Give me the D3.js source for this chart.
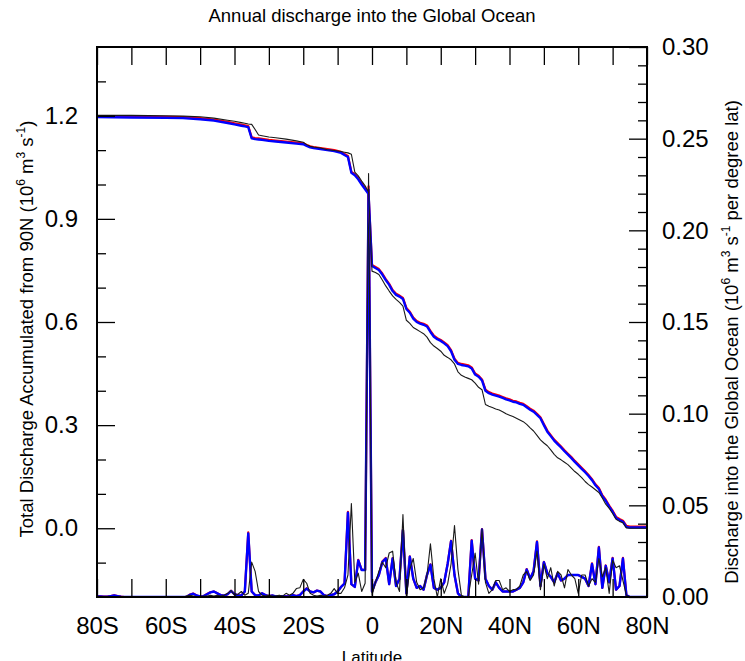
<!DOCTYPE html>
<html>
<head>
<meta charset="utf-8">
<script src="https://cdn.jsdelivr.net/npm/d3@7"></script>
<style>
  body { margin: 0; background: #fff; }
  svg { display: block; font-family: "Liberation Sans", Arial, Helvetica, sans-serif; }
</style>
</head>
<body>
<svg id="chart" width="745" height="661"></svg>
<script>
// ---------------- data ----------------
// Latitude grid (1 degree) for the per-latitude discharge series
const latQ = d3.range(-80, 81, 1);

// Discharge into the ocean per degree latitude (10^6 m^3 s^-1), 80S..80N
const qObs = [
  0,0,0,0,0,0,0,0,0,0,
  0,0,0,0,0,0,0,0,0,0,
  0,0,0,0,0,0,0.0005,0.001,0.0005,0,
  0,0.0005,0.0005,0.001,0.0005,0.001,0.0005,0.001,0.002,0.0035,
  0.001,0.0015,0.003,0.001,0.002,0.019,0.014,0.003,0.001,0.0005,
  0.001,0.0005,0.0005,0.001,0.0005,0.002,0.001,0.002,0.0046,0.005,
  0.0096,0.0075,0.002,0.001,0.0005,0.001,0.0005,0.001,0.002,0.0046,
  0.002,0.002,0.005,0.012,0.051,0.008,0.013,0.003,0.0075,0.231,
  0.001,0.008,0.014,0.019,0.016,0.024,0.025,0.008,0.003,0.045,
  0.000,0.015,0.021,0.008,0.004,0.005,0.012,0.029,0.010,0.000,
  0.010,0.002,0.007,0.018,0.039,0.015,0.001,0.000,0.000,0.012,
  0.024,0.007,0.037,0.008,0.002,0.004,0.009,0.009,0.004,0.005,
  0.003,0.004,0.004,0.006,0.012,0.014,0.009,0.012,0.025,0.004,
  0.018,0.010,0.016,0.006,0.014,0.012,0.005,0.015,0.012,0.010,
  0.002,0.012,0.012,0.006,0.010,0.008,0.021,0.011,0.016,0.002,
  0.020,0.016,0.017,0.009,0.001,0,0,0,0,0,
  0
];
const qRed = [
  0.0004,0.0003,0.0002,0.0002,0.0005,0.0009,0.0005,0.0002,0,0,
  0,0,0,0,0,0,0,0,0,0,
  0,0,0,0,0,0,0,0.0013,0.0019,0.0008,
  0.0003,0.0005,0.0016,0.0026,0.003,0.002,0.001,0.0008,0.0015,0.0034,
  0.0015,0.001,0.0008,0.003,0.0352,0.003,0.001,0.0008,0.002,0.001,
  0.0005,0.0008,0.0003,0.0005,0.0005,0.0003,0.0005,0.001,0.0005,0.001,
  0.003,0.0048,0.003,0.0025,0.0035,0.003,0.001,0.0005,0.001,0.0015,
  0.003,0.0055,0.0074,0.0465,0.007,0.0055,0.0203,0.0148,0.0148,0.224,
  0.003,0.008,0.012,0.0193,0.0213,0.007,0.0212,0.006,0.010,0.0368,
  0.002,0.0222,0.010,0.005,0.006,0.004,0.012,0.0178,0.005,0.004,
  0.005,0.008,0.018,0.0307,0.012,0.002,0.000,0.000,0.000,0.031,
  0.010,0.009,0.0371,0.010,0.006,0.004,0.008,0.005,0.003,0.003,
  0.003,0.003,0.004,0.005,0.008,0.0152,0.010,0.014,0.0303,0.006,
  0.0192,0.013,0.011,0.008,0.013,0.009,0.010,0.012,0.012,0.012,
  0.012,0.011,0.010,0.006,0.0183,0.007,0.0273,0.005,0.0172,0.008,
  0.0213,0.004,0.006,0.0213,0.001,0,0,0,0,0,
  0
];
const qModel = [
  0.0003,0.0003,0.0002,0.0002,0.0005,0.0008,0.0005,0.0002,0,0,
  0,0,0,0,0,0,0,0,0,0,
  0,0,0,0,0,0,0,0.0012,0.0018,0.0008,
  0.0003,0.0005,0.0015,0.0025,0.003,0.002,0.001,0.0008,0.0015,0.0033,
  0.0015,0.001,0.0008,0.003,0.0347,0.003,0.001,0.0008,0.002,0.001,
  0.0005,0.0008,0.0003,0.0005,0.0005,0.0003,0.0005,0.001,0.0005,0.001,
  0.003,0.0046,0.003,0.0025,0.0035,0.003,0.001,0.0005,0.001,0.0015,
  0.003,0.0055,0.0073,0.046,0.007,0.0055,0.020,0.0147,0.0147,0.222,
  0.003,0.008,0.012,0.019,0.021,0.007,0.021,0.006,0.010,0.0365,
  0.002,0.022,0.010,0.005,0.006,0.004,0.012,0.0176,0.005,0.004,
  0.005,0.008,0.018,0.0304,0.012,0.002,0.000,0.000,0.000,0.0307,
  0.010,0.009,0.0368,0.010,0.006,0.004,0.008,0.005,0.003,0.003,
  0.003,0.003,0.004,0.005,0.008,0.015,0.010,0.014,0.030,0.006,
  0.019,0.013,0.011,0.008,0.013,0.009,0.010,0.012,0.012,0.012,
  0.012,0.011,0.010,0.006,0.018,0.007,0.027,0.005,0.017,0.008,
  0.021,0.004,0.006,0.021,0.001,0,0,0,0,0,
  0
];

// Latitudes of the accumulated-discharge samples
const latAcc = [
  -80,-70,-60,-55,-50,-46,-42,-40,-38,-37,-36,-35,-34,-33,-32,-30,-28,-25,-22,-20,
  -19,-18,-17,-15,-13,-11,-9,-8,-7,-6,-5,-4,-3,-2,-1,
  0,1,2,3,4,5,6,7,8,9,10,11,12,13,14,15,16,17,18,19,
  20,21,22,23,24,25,26,27,28,29,30,31,32,33,34,35,36,37,38,39,
  40,41,42,43,44,45,46,47,48,49,50,51,52,53,54,55,56,57,58,59,
  60,61,62,63,64,65,66,67,68,69,70,71,72,73,74,75,76,77,78,79,80
];

// Total discharge accumulated from 90N (10^6 m^3 s^-1)
const accObs = [
  1.201,1.201,1.200,1.199,1.197,1.193,1.187,1.184,1.180,1.178,
  1.176,1.175,1.160,1.144,1.142,1.138,1.136,1.132,1.127,1.123,
  1.116,1.111,1.109,1.106,1.101,1.099,1.096,1.094,1.092,1.088,
  1.036,1.025,1.010,0.996,0.978,
  0.748,0.744,0.738,0.722,0.705,0.690,0.676,0.666,0.657,0.646,
  0.605,0.596,0.584,0.578,0.572,0.566,0.556,0.540,0.530,0.523,
  0.515,0.503,0.497,0.490,0.478,0.455,0.445,0.440,0.436,0.432,
  0.422,0.410,0.403,0.360,0.355,0.351,0.347,0.344,0.339,0.333,
  0.329,0.325,0.320,0.315,0.310,0.302,0.292,0.283,0.270,0.257,
  0.248,0.240,0.228,0.215,0.205,0.199,0.192,0.185,0.175,0.165,
  0.157,0.147,0.136,0.127,0.120,0.112,0.104,0.088,0.070,0.058,
  0.043,0.026,0.020,0.016,0.001,0,0,0,0,0,
  0
];
const accRed = [
  1.199,1.198,1.197,1.196,1.193,1.189,1.182,1.178,1.174,1.172,
  1.170,1.137,1.135,1.134,1.133,1.130,1.128,1.125,1.122,1.120,
  1.115,1.111,1.109,1.106,1.103,1.100,1.095,1.089,1.083,1.037,
  1.030,1.018,1.003,0.989,0.975,
  0.766,0.760,0.754,0.741,0.725,0.711,0.693,0.682,0.677,0.670,
  0.641,0.630,0.613,0.603,0.598,0.595,0.590,0.574,0.560,0.553,
  0.548,0.541,0.533,0.518,0.493,0.481,0.478,0.476,0.474,0.468,
  0.450,0.444,0.433,0.403,0.396,0.392,0.389,0.386,0.382,0.378,
  0.375,0.371,0.369,0.365,0.362,0.355,0.348,0.342,0.333,0.323,
  0.303,0.284,0.271,0.258,0.248,0.238,0.227,0.217,0.207,0.196,
  0.186,0.176,0.166,0.155,0.143,0.128,0.117,0.096,0.083,0.066,
  0.051,0.033,0.027,0.022,0.007,0.005,0.005,0.005,0.005,0.005,
  0.005
];
const accModel = [
  1.196,1.195,1.194,1.193,1.190,1.186,1.179,1.175,1.171,1.169,
  1.167,1.134,1.132,1.131,1.130,1.127,1.125,1.122,1.119,1.117,
  1.112,1.108,1.106,1.103,1.100,1.097,1.092,1.086,1.080,1.034,
  1.027,1.015,1.000,0.986,0.972,
  0.763,0.757,0.751,0.738,0.722,0.708,0.690,0.679,0.674,0.667,
  0.638,0.627,0.610,0.600,0.595,0.592,0.587,0.571,0.557,0.550,
  0.545,0.538,0.530,0.515,0.490,0.478,0.475,0.473,0.471,0.465,
  0.447,0.441,0.430,0.400,0.393,0.389,0.386,0.383,0.379,0.375,
  0.372,0.368,0.366,0.362,0.359,0.352,0.345,0.339,0.330,0.320,
  0.300,0.281,0.268,0.255,0.245,0.235,0.224,0.214,0.204,0.193,
  0.183,0.173,0.163,0.152,0.140,0.125,0.114,0.093,0.080,0.063,
  0.048,0.030,0.024,0.019,0.004,0.002,0.002,0.002,0.002,0.002,
  0.002
];

// Axis ticks and labels
const latTickValues = [-80, -60, -40, -20, 0, 20, 40, 60, 80];
const latTickLabels = ["80S", "60S", "40S", "20S", "0", "20N", "40N", "60N", "80N"];
const latMinorValues = [-70, -50, -30, -10, 10, 30, 50, 70];
const accTickValues = [0.0, 0.3, 0.6, 0.9, 1.2];
const accMinorValues = [-0.1, 0.1, 0.2, 0.4, 0.5, 0.7, 0.8, 1.0, 1.1, 1.3];
const qTickValues = [0.00, 0.05, 0.10, 0.15, 0.20, 0.25, 0.30];
const qMinorValues = [0.01,0.02,0.03,0.04,0.06,0.07,0.08,0.09,0.11,0.12,0.13,0.14,
                      0.16,0.17,0.18,0.19,0.21,0.22,0.23,0.24,0.26,0.27,0.28,0.29];

// ---------------- drawing ----------------
const L = 97, R = 647, T = 47, B = 597;
const svg = d3.select("#chart");

const x = d3.scaleLinear().domain([-80, 80]).range([L, R]);
const yAcc = d3.scaleLinear().domain([-0.2, 1.4]).range([B, T]);
const yQ = d3.scaleLinear().domain([0, 0.3]).range([B, T]);

svg.append("defs").append("clipPath").attr("id", "plotClip")
  .append("rect").attr("x", L).attr("y", T).attr("width", R - L).attr("height", B - T);

const plot = svg.append("g").attr("clip-path", "url(#plotClip)");

function drawSeries(lats, vals, yScale, color, width) {
  const pts = lats.map((lat, i) => [lat, vals[i]]);
  plot.append("path")
    .datum(pts)
    .attr("fill", "none")
    .attr("stroke", color)
    .attr("stroke-width", width)
    .attr("stroke-linejoin", "round")
    .attr("d", d3.line().x(d => x(d[0])).y(d => yScale(d[1])));
}

// discharge per degree (right axis)
drawSeries(latQ, qRed, yQ, "#ff0000", 2.2);
drawSeries(latQ, qModel, yQ, "#0000ff", 2.4);
drawSeries(latQ, qObs, yQ, "#1a1a1a", 1.1);
// accumulated discharge (left axis)
drawSeries(latAcc, accRed, yAcc, "#ff0000", 2.2);
drawSeries(latAcc, accModel, yAcc, "#0000ff", 2.4);
drawSeries(latAcc, accObs, yAcc, "#1a1a1a", 1.1);

// axes
function styleAxis(g) {
  g.select(".domain").remove();
  g.selectAll(".tick line").attr("stroke", "#000").attr("stroke-width", 1.3);
  g.selectAll(".tick text").attr("fill", "#000").attr("font-size", 24)
    .attr("font-family", "Liberation Sans, Arial, Helvetica, sans-serif");
}

svg.append("g").attr("transform", `translate(${L},0)`)
  .call(d3.axisLeft(yAcc).tickValues(accMinorValues).tickSize(-9).tickFormat(""))
  .call(styleAxis);
svg.append("g").attr("transform", `translate(${L},0)`)
  .call(d3.axisLeft(yAcc).tickValues(accTickValues).tickSize(-18).tickPadding(19)
    .tickFormat(d3.format(".1f")))
  .call(styleAxis);

svg.append("g").attr("transform", `translate(${R},0)`)
  .call(d3.axisRight(yQ).tickValues(qMinorValues).tickSize(-9).tickFormat(""))
  .call(styleAxis);
svg.append("g").attr("transform", `translate(${R},0)`)
  .call(d3.axisRight(yQ).tickValues(qTickValues).tickSize(-18).tickPadding(15)
    .tickFormat(d3.format(".2f")))
  .call(styleAxis);

svg.append("g").attr("transform", `translate(0,${B})`)
  .call(d3.axisBottom(x).tickValues(latMinorValues).tickSize(-18).tickFormat(""))
  .call(styleAxis);
svg.append("g").attr("transform", `translate(0,${B})`)
  .call(d3.axisBottom(x).tickValues(latTickValues).tickSize(-18).tickPadding(20)
    .tickFormat((d, i) => latTickLabels[i]))
  .call(styleAxis);

svg.append("g").attr("transform", `translate(0,${T})`)
  .call(d3.axisTop(x).tickValues(latTickValues.concat(latMinorValues)).tickSize(-18).tickFormat(""))
  .call(styleAxis);

// frame
svg.append("rect")
  .attr("x", L).attr("y", T).attr("width", R - L).attr("height", B - T)
  .attr("fill", "none").attr("stroke", "#000").attr("stroke-width", 2);

// titles
svg.append("text")
  .attr("x", (L + R) / 2).attr("y", 22)
  .attr("text-anchor", "middle").attr("font-size", 18.5).attr("fill", "#000")
  .text("Annual discharge into the Global Ocean");

svg.append("text")
  .attr("x", (L + R) / 2).attr("y", 663)
  .attr("text-anchor", "middle").attr("font-size", 17).attr("fill", "#000")
  .text("Latitude");

function unitTitle(g, prefix, suffix) {
  const t = g.append("text").attr("text-anchor", "middle").attr("font-size", 18.5)
    .attr("fill", "#000").attr("stroke", "none");
  t.append("tspan").text(prefix + " (10");
  t.append("tspan").attr("font-size", 12).attr("dy", -8).text("6");
  t.append("tspan").attr("dy", 8).text(" m");
  t.append("tspan").attr("font-size", 12).attr("dy", -8).text("3");
  t.append("tspan").attr("dy", 8).text(" s");
  t.append("tspan").attr("font-size", 12).attr("dy", -8).text("-1");
  t.append("tspan").attr("dy", 8).text(suffix);
  return t;
}

unitTitle(svg.append("g").attr("transform", "translate(33,329) rotate(-90)"),
  "Total Discharge Accumulated from 90N", ")");
unitTitle(svg.append("g").attr("transform", "translate(738,342) rotate(-90)"),
  "Discharge into the Global Ocean", " per degree lat)");
</script>
</body>
</html>
